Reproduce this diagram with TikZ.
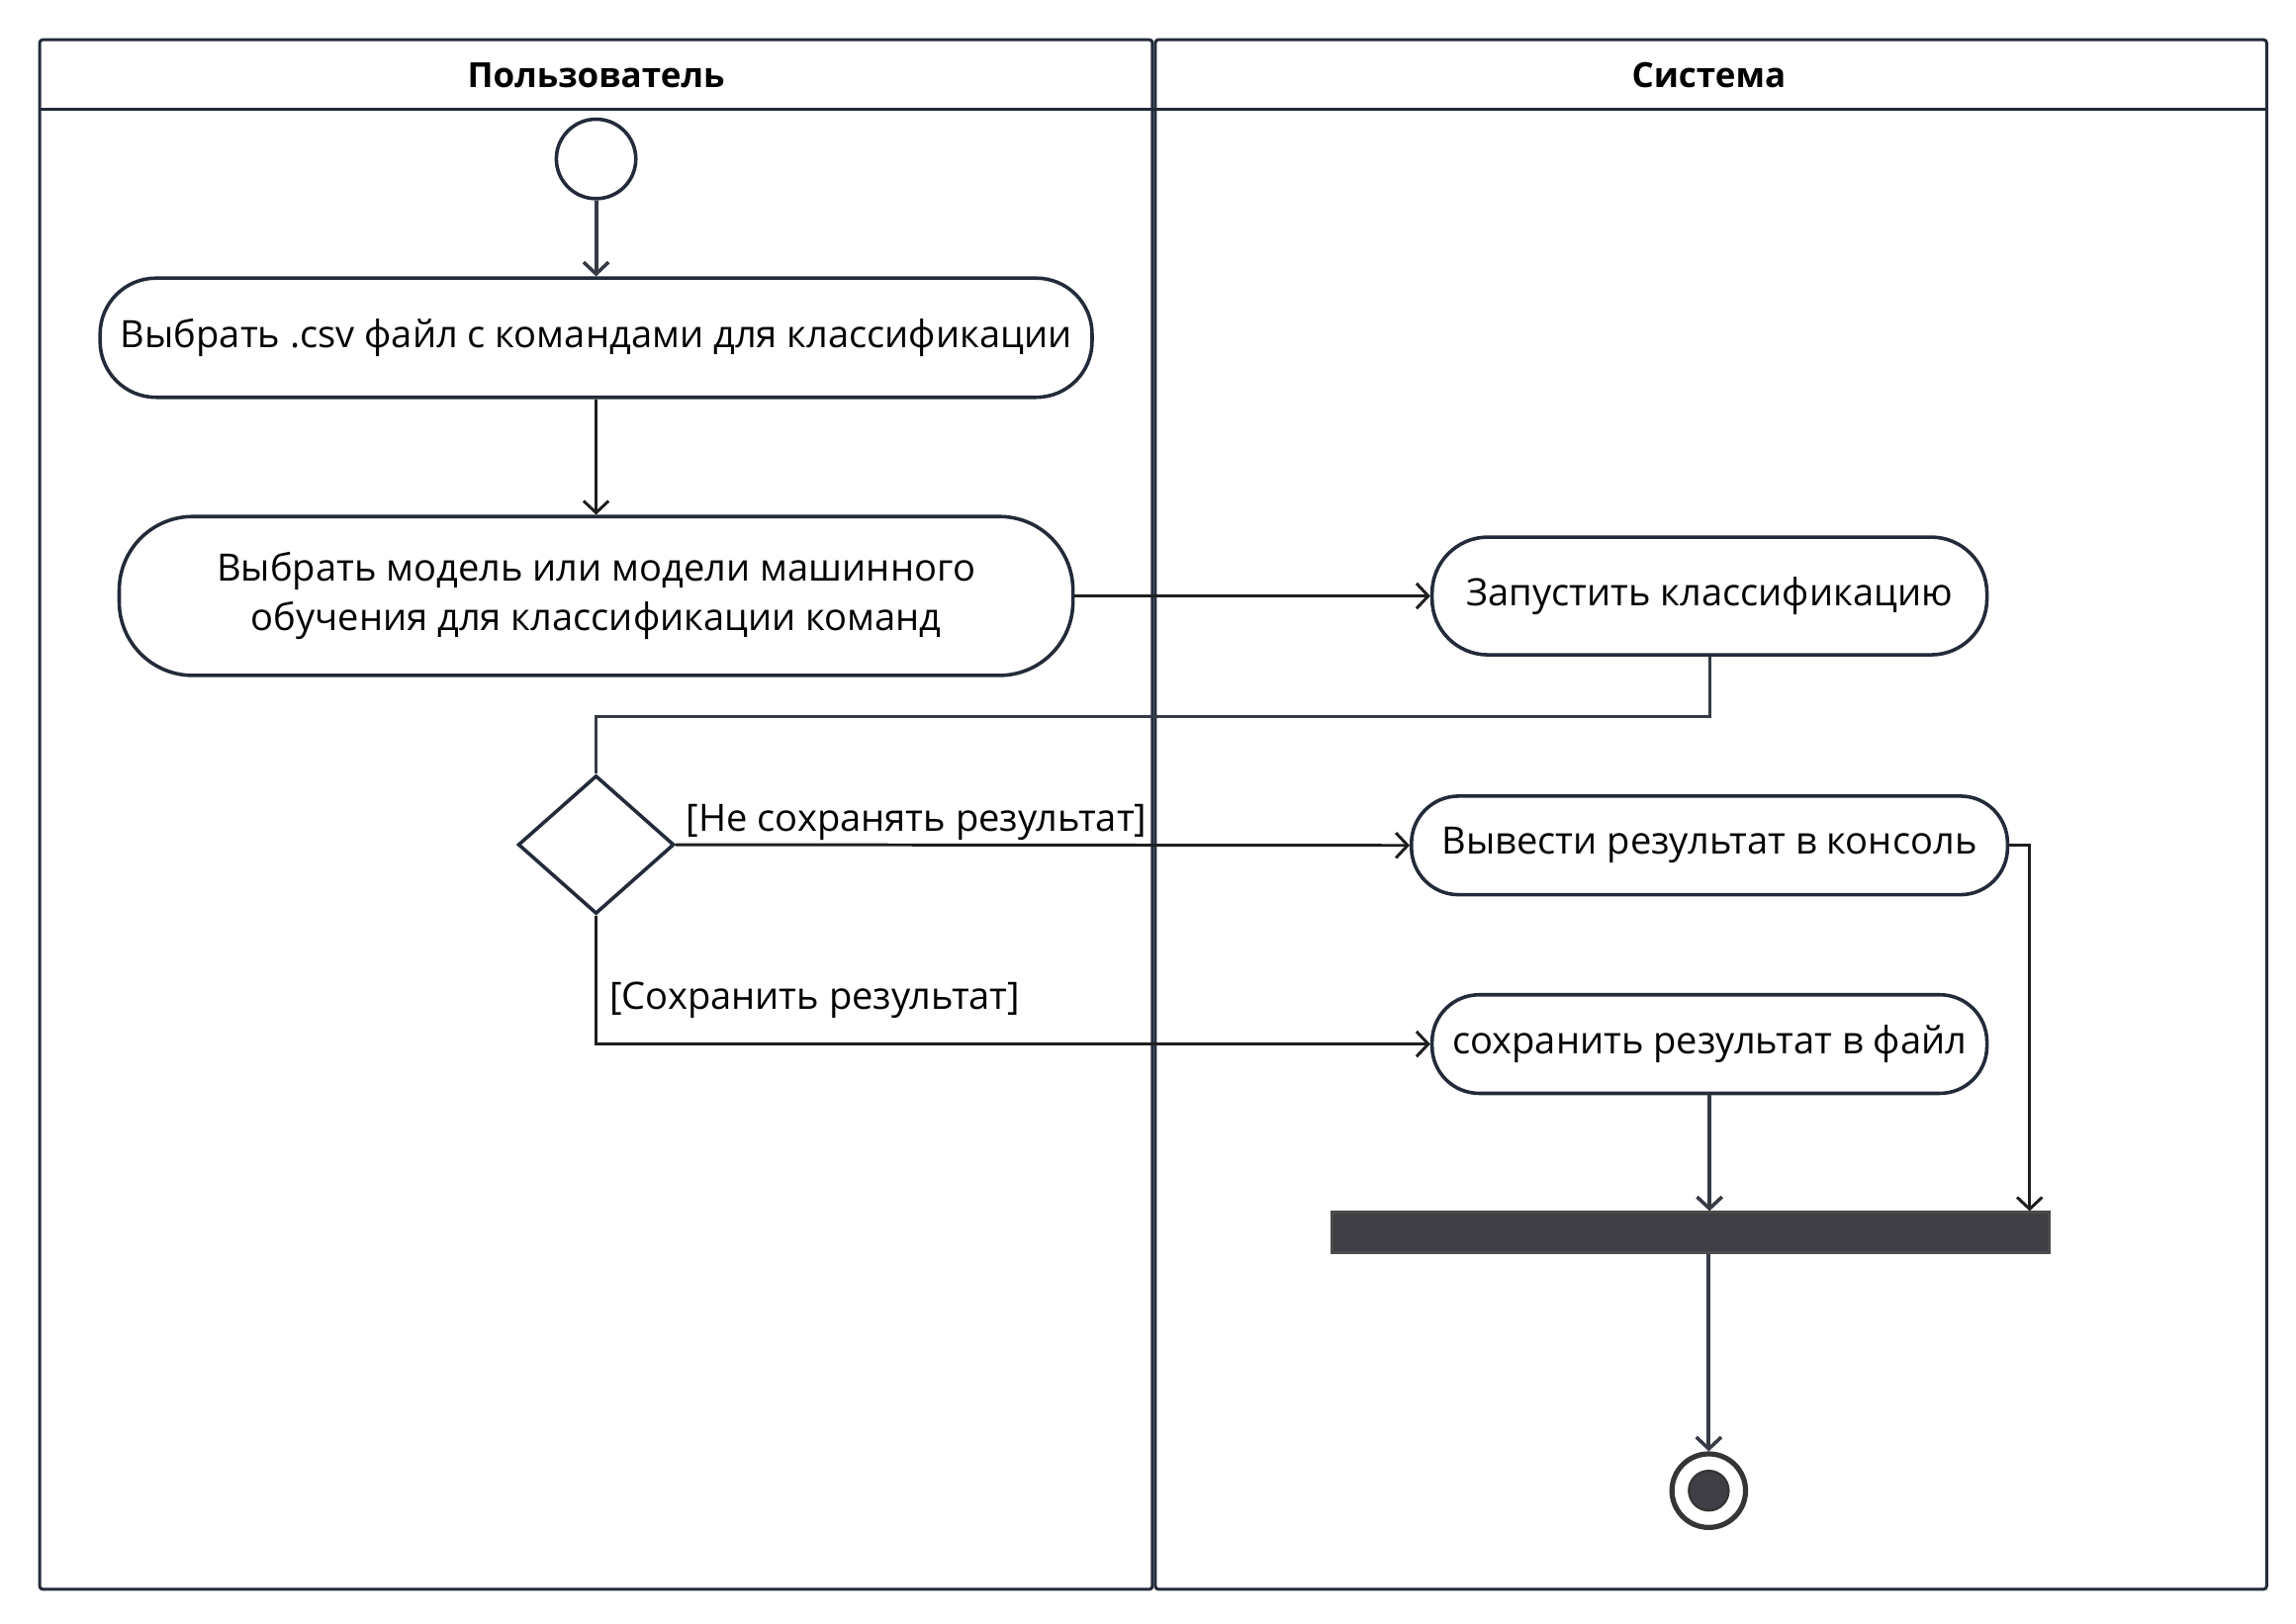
\documentclass[tikz,border=0pt]{standalone}
\usepackage{fontspec}
\setmainfont{Open Sans}
\usetikzlibrary{arrows.meta,shapes.geometric,calc}
\definecolor{lane}{HTML}{232B3A}
\definecolor{edge}{HTML}{1E1E1E}
\definecolor{gline}{HTML}{363B45}
\definecolor{barfill}{HTML}{3F3F45}
\tikzset{
  lanestyle/.style={draw=lane,line width=2pt},
  act/.style={draw=lane,line width=2.4pt,fill=white,rectangle,inner sep=0pt,font=\fontsize{25.6}{34}\selectfont,align=center},
  conn/.style={draw=edge,line width=2pt},
  arr/.style={conn,-{Straight Barb[length=8pt,width=17pt,line width=2pt]}},
  garr/.style={draw=gline,line width=2.6pt,-{Straight Barb[length=8pt,width=17pt,line width=2.4pt]}},
  lbl/.style={font=\fontsize{25.6}{30}\selectfont,inner sep=0pt},
  hdr/.style={font=\fontsize{23.5}{28}\selectfont\bfseries,inner sep=0pt}
}
\begin{document}
\begin{tikzpicture}[x=1pt,y=-1pt]
\useasboundingbox (0,0) rectangle (1560,1103);
% lanes
\draw[lanestyle,rounded corners=2pt] (27,27) rectangle (783,1080);
\draw[lanestyle,rounded corners=2pt] (785,27) rectangle (1540,1080);
\draw[lanestyle] (27,74) -- (1540,74);
\node[hdr] (h1) at (405,51) {Пользователь};
\node[hdr] (h2) at (1161,51) {Система};
% nodes
\node[draw=lane,line width=2.4pt,circle,fill=white,minimum size=54pt,inner sep=0pt] (start) at (405,108) {};
\node[act,minimum width=674pt,minimum height=81pt,rounded corners=38pt] (b1) at (405,229.5) {Выбрать .csv файл с командами для классификации};
\node[act,minimum width=648pt,minimum height=108pt,rounded corners=50pt] (b2) at (405,405) {Выбрать модель или модели машинного\\обучения для классификации команд};
\node[act,minimum width=377pt,minimum height=80pt,rounded corners=38pt] (b3) at (1161.5,405) {Запустить классификацию};
\node[draw=lane,line width=2.4pt,diamond,aspect=1.13,minimum width=106pt,minimum height=94pt,inner sep=0pt,fill=white] (dia) at (405,574) {};
\node[act,minimum width=405pt,minimum height=67pt,rounded corners=32pt] (b4) at (1161.5,574.5) {Вывести результат в консоль};
\node[act,minimum width=377pt,minimum height=67pt,rounded corners=32pt] (b5) at (1161.5,709.5) {сохранить результат в файл};
\node[draw=edge!80,line width=2pt,fill=barfill,rectangle,minimum width=487pt,minimum height=27pt,inner sep=0pt] (bar) at (1148.5,837.5) {};
\node[draw=edge!90,line width=3.5pt,circle,fill=white,minimum size=50pt,inner sep=0pt] (fin) at (1161,1013) {};
\node[draw=edge!90,line width=1.5pt,circle,fill=barfill,minimum size=27pt,inner sep=0pt] (finc) at (1161,1013) {};
\coordinate (barR) at ($(bar.north east)+(-14,0)$);
% connectors
\draw[garr] (start.south) -- (b1.north);
\draw[arr] (b1.south) -- (b2.north);
\draw[arr] (b2.east) -- (b3.west);
\draw[draw=gline,line width=2pt] (b3.south) -- ++(0,41) -| (dia.north);
\draw[arr] (dia.east) -- (b4.west);
\node[lbl,anchor=south west] (l1) at ($(dia.east)+(7,-3)$) {[Не сохранять результат]};
\draw[arr] (dia.south) |- (b5.west);
\node[lbl,anchor=west] (l2) at (414,680) {[Сохранить результат]};
\draw[garr] (b5.south) -- (b5.south |- bar.north);
\draw[arr] (b4.east) -| (barR);
\draw[garr] (bar.south -| fin.north) -- (fin.north);
\end{tikzpicture}
\end{document}
